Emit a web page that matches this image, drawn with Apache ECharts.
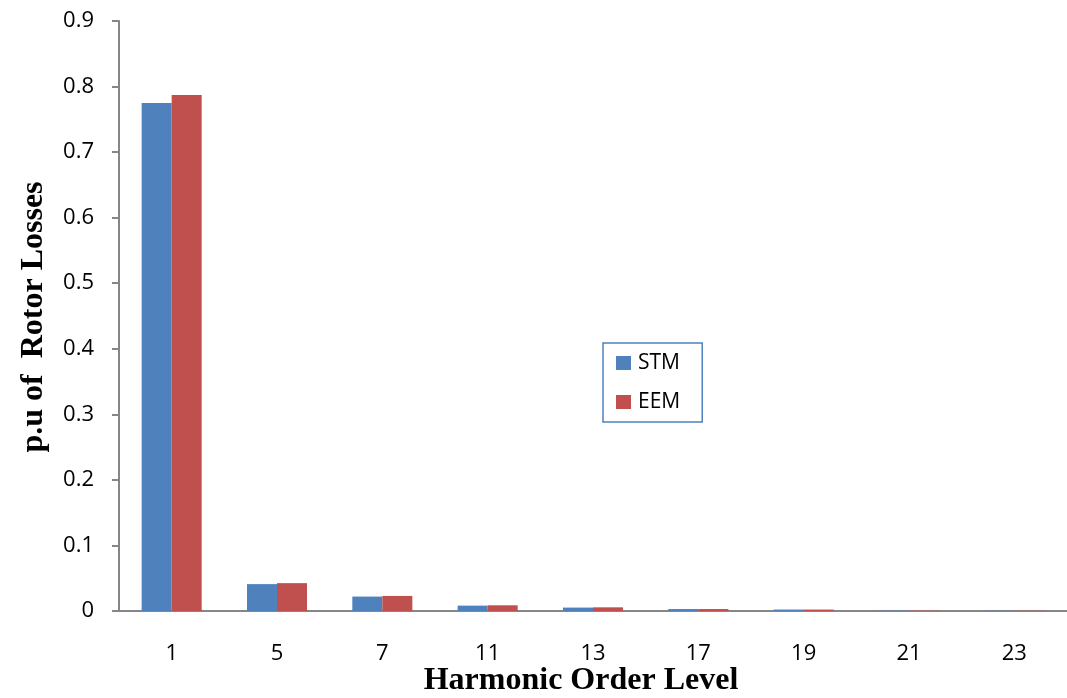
<!DOCTYPE html>
<html><head><meta charset="utf-8">
<script src="https://cdn.jsdelivr.net/npm/echarts@6/dist/echarts.min.js"></script>
<style>html,body{margin:0;padding:0;background:#fff;overflow:hidden}#c{width:1067px;height:698px}</style>
</head><body><div id="c"></div>
<script>
const categories = ['1','5','7','11','13','17','19','21','23'];
const stm = [0.775, 0.041, 0.022, 0.0082, 0.0052, 0.003, 0.0022, 0.0005, 0.0004];
const eem = [0.787, 0.0425, 0.023, 0.0087, 0.0056, 0.003, 0.0022, 0.0005, 0.0004];
const yTicks = ['0','0.1','0.2','0.3','0.4','0.5','0.6','0.7','0.8','0.9'];
const xTitle = 'Harmonic Order Level';
const yTitle = 'p.u of  Rotor Losses';

const chart = echarts.init(document.getElementById('c'));
chart.setOption({
  animation: false,
  grid: {left: 119, right: -4, top: 21, bottom: 87, containLabel: false},
  legend: {
    orient: 'vertical', left: 603, top: 343,
    padding: [9, 22, 9, 13],
    itemGap: 17,
    borderColor: '#4f81bd', borderWidth: 1.5,
    itemWidth: 15, itemHeight: 14,
    icon: 'rect',
    textStyle: {fontFamily: 'Open Sans', fontSize: 21, lineHeight: 22, color: '#000', padding: [0, 0, 0, 2]},
    data: ['STM', 'EEM']
  },
  graphic: [
    {type: 'text', x: 581, y: 681,
      style: {text: xTitle, align: 'center', verticalAlign: 'middle', font: 'bold 32px "Liberation Serif"', fill: '#000'}},
    {type: 'text', x: 34, y: 317, rotation: Math.PI / 2,
      style: {text: yTitle, align: 'center', verticalAlign: 'middle', font: 'bold 32px "Liberation Serif"', fill: '#000'}}
  ],
  xAxis: {
    type: 'category', data: categories,
    axisLine: {lineStyle: {color: '#868686', width: 2}},
    axisTick: {show: false},
    axisLabel: {fontFamily: 'Open Sans', fontSize: 22, color: '#000', margin: 32}
  },
  yAxis: {
    type: 'value', min: 0, max: 0.9, interval: 0.1,
    axisLine: {show: true, lineStyle: {color: '#868686', width: 2}},
    axisTick: {show: true, length: 7, lineStyle: {color: '#868686', width: 2}},
    splitLine: {show: false},
    axisLabel: {fontFamily: 'Open Sans', fontSize: 22, color: '#000', margin: 25,
      formatter: (v) => yTicks[Math.round(v * 10)]}
  },
  series: [
    {name: 'STM', type: 'bar', data: stm, barGap: '0%', barCategoryGap: '43%',
      itemStyle: {color: '#4f81bd'}},
    {name: 'EEM', type: 'bar', data: eem, barGap: '0%', barCategoryGap: '43%',
      itemStyle: {color: '#c0504d'}}
  ]
});
</script></body></html>
